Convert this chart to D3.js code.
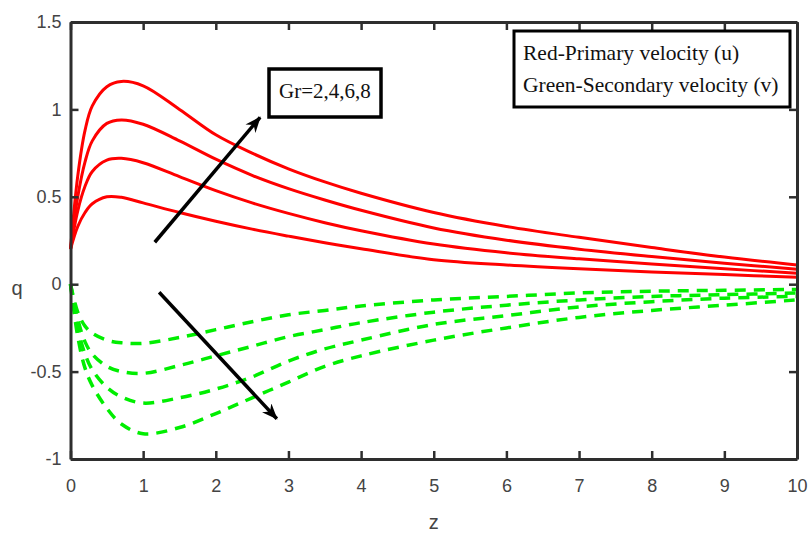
<!DOCTYPE html>
<html>
<head>
<meta charset="utf-8">
<script src="https://cdn.jsdelivr.net/npm/d3@7"></script>
<style>
  body { margin: 0; background: #fff; }
  svg { display: block; }
</style>
</head>
<body>
<svg id="chart" width="809" height="534"></svg>
<script>
// Axial coordinate z shared by all profiles
const zValues = [0, 0.1, 0.2, 0.3, 0.5, 0.7, 1, 1.5, 2, 2.5, 3, 3.5, 4, 5, 6, 7, 8, 9, 10];

// Primary velocity u for Gr = 2, 4, 6, 8
const primaryGr2 = [0.2, 0.33, 0.41, 0.46, 0.5, 0.497, 0.465, 0.41, 0.36, 0.315, 0.275, 0.237, 0.203, 0.14, 0.11, 0.088, 0.07, 0.055, 0.04];
const primaryGr4 = [0.2, 0.42, 0.56, 0.645, 0.71, 0.72, 0.695, 0.615, 0.535, 0.465, 0.405, 0.352, 0.306, 0.23, 0.18, 0.145, 0.115, 0.088, 0.063];
const primaryGr6 = [0.2, 0.5, 0.7, 0.82, 0.92, 0.94, 0.915, 0.82, 0.715, 0.623, 0.547, 0.482, 0.423, 0.322, 0.252, 0.2, 0.158, 0.12, 0.086];
const primaryGr8 = [0.2, 0.62, 0.88, 1.02, 1.13, 1.16, 1.135, 1.0, 0.855, 0.75, 0.66, 0.585, 0.52, 0.41, 0.33, 0.268, 0.21, 0.155, 0.11];

// Secondary velocity v for Gr = 2, 4, 6, 8
const secondaryGr2 = [0, -0.16, -0.24, -0.28, -0.32, -0.335, -0.338, -0.305, -0.26, -0.215, -0.175, -0.15, -0.125, -0.09, -0.07, -0.05, -0.04, -0.035, -0.03];
const secondaryGr4 = [0, -0.2, -0.33, -0.40, -0.47, -0.50, -0.51, -0.465, -0.41, -0.355, -0.30, -0.26, -0.22, -0.16, -0.12, -0.09, -0.07, -0.06, -0.05];
const secondaryGr6 = [0, -0.25, -0.40, -0.49, -0.59, -0.645, -0.68, -0.65, -0.60, -0.53, -0.44, -0.37, -0.32, -0.23, -0.18, -0.13, -0.10, -0.08, -0.07];
const secondaryGr8 = [0, -0.3, -0.48, -0.58, -0.71, -0.80, -0.855, -0.82, -0.74, -0.65, -0.56, -0.47, -0.41, -0.32, -0.25, -0.19, -0.15, -0.12, -0.09];

// Axis ticks
const xTicks = [0, 1, 2, 3, 4, 5, 6, 7, 8, 9, 10];
const yTicks = [-1, -0.5, 0, 0.5, 1, 1.5];
const yTickLabels = ["-1", "-0.5", "0", "0.5", "1", "1.5"];

// Annotation arrows in data coordinates [z, q]
const arrowUp = [[1.16, 0.24], [2.61, 0.955]];
const arrowDown = [[1.22, -0.046], [2.84, -0.77]];

const legendLines = ["Red-Primary velocity (u)", "Green-Secondary velocity (v)"];
const grLabel = "Gr=2,4,6,8";

const svg = d3.select("#chart");
const W = 809, H = 534;
svg.append("rect").attr("width", W).attr("height", H).attr("fill", "#fff");

const x = d3.scaleLinear().domain([0, 10]).range([70.5, 797]);
const y = d3.scaleLinear().domain([-1, 1.5]).range([459, 22]);

const axisColor = "#2e2e2e";
const tickFont = "'Liberation Sans', Arial, sans-serif";

// Curves
const line = d3.line()
  .x((d, i) => x(zValues[i]))
  .y(d => y(d))
  .curve(d3.curveCatmullRom.alpha(0.5));

const primary = [primaryGr2, primaryGr4, primaryGr6, primaryGr8];
const secondary = [secondaryGr2, secondaryGr4, secondaryGr6, secondaryGr8];

const curves = svg.append("g");
curves.selectAll("path.u").data(primary).join("path")
  .attr("class", "u")
  .attr("d", line)
  .attr("fill", "none")
  .attr("stroke", "#ff0000")
  .attr("stroke-width", 3);

curves.selectAll("path.v").data(secondary).join("path")
  .attr("class", "v")
  .attr("d", line)
  .attr("fill", "none")
  .attr("stroke", "#00ee00")
  .attr("stroke-width", 3.5)
  .attr("stroke-dasharray", "11,8");

// Axes: box with inward ticks on all four sides
function styleAxis(g, showLabels) {
  g.select(".domain").attr("stroke", axisColor).attr("stroke-width", 3);
  g.selectAll(".tick line").attr("stroke", axisColor).attr("stroke-width", 2.5);
  g.selectAll(".tick text")
    .attr("fill", "#444")
    .attr("font-family", tickFont)
    .attr("font-size", 18)
    .style("display", showLabels ? null : "none");
}

const gx = svg.append("g").attr("transform", `translate(0,${y(-1)})`)
  .call(d3.axisBottom(x).tickValues(xTicks).tickFormat(d3.format("d"))
    .tickSizeInner(-8).tickSizeOuter(0).tickPadding(20));
styleAxis(gx, true);

const gxTop = svg.append("g").attr("transform", `translate(0,${y(1.5)})`)
  .call(d3.axisTop(x).tickValues(xTicks).tickSizeInner(-8).tickSizeOuter(0));
styleAxis(gxTop, false);

const gy = svg.append("g").attr("transform", `translate(${x(0)},0)`)
  .call(d3.axisLeft(y).tickValues(yTicks).tickFormat((d, i) => yTickLabels[i])
    .tickSizeInner(-8).tickSizeOuter(0).tickPadding(9));
styleAxis(gy, true);

const gyRight = svg.append("g").attr("transform", `translate(${x(10)},0)`)
  .call(d3.axisRight(y).tickValues(yTicks).tickSizeInner(-8).tickSizeOuter(0));
styleAxis(gyRight, false);

// Axis titles
svg.append("text")
  .attr("x", (x(0) + x(10)) / 2).attr("y", 529)
  .attr("text-anchor", "middle")
  .attr("font-family", tickFont).attr("font-size", 20).attr("fill", "#444")
  .text("z");

svg.append("text")
  .attr("x", 17).attr("y", 295)
  .attr("text-anchor", "middle")
  .attr("font-family", tickFont).attr("font-size", 20).attr("fill", "#444")
  .text("q");

// Arrows
const defs = svg.append("defs");
defs.append("marker")
  .attr("id", "head")
  .attr("viewBox", "0 0 16 13")
  .attr("refX", 15).attr("refY", 6.5)
  .attr("markerWidth", 16).attr("markerHeight", 13)
  .attr("markerUnits", "userSpaceOnUse")
  .attr("orient", "auto")
  .append("path")
  .attr("d", "M0,0 L16,6.5 L0,13 L5,6.5 Z")
  .attr("fill", "#000");

[arrowUp, arrowDown].forEach(a => {
  svg.append("line")
    .attr("x1", x(a[0][0])).attr("y1", y(a[0][1]))
    .attr("x2", x(a[1][0])).attr("y2", y(a[1][1]))
    .attr("stroke", "#000").attr("stroke-width", 3.5)
    .attr("marker-end", "url(#head)");
});

// Gr label box
const serif = "'Liberation Serif', 'Times New Roman', serif";
svg.append("rect")
  .attr("x", 269).attr("y", 69).attr("width", 112).attr("height", 48)
  .attr("fill", "#fff").attr("stroke", "#000").attr("stroke-width", 3.5);
svg.append("text")
  .attr("x", 325).attr("y", 98)
  .attr("text-anchor", "middle")
  .attr("font-family", serif).attr("font-size", 21).attr("fill", "#111")
  .text(grLabel);

// Legend box
svg.append("rect")
  .attr("x", 514).attr("y", 31).attr("width", 276).attr("height", 76)
  .attr("fill", "#fff").attr("stroke", "#000").attr("stroke-width", 3);
svg.selectAll("text.leg").data(legendLines).join("text")
  .attr("class", "leg")
  .attr("x", 523)
  .attr("y", (d, i) => 60 + i * 32)
  .attr("font-family", serif).attr("font-size", 21.5).attr("fill", "#111")
  .text(d => d);
</script>
</body>
</html>
